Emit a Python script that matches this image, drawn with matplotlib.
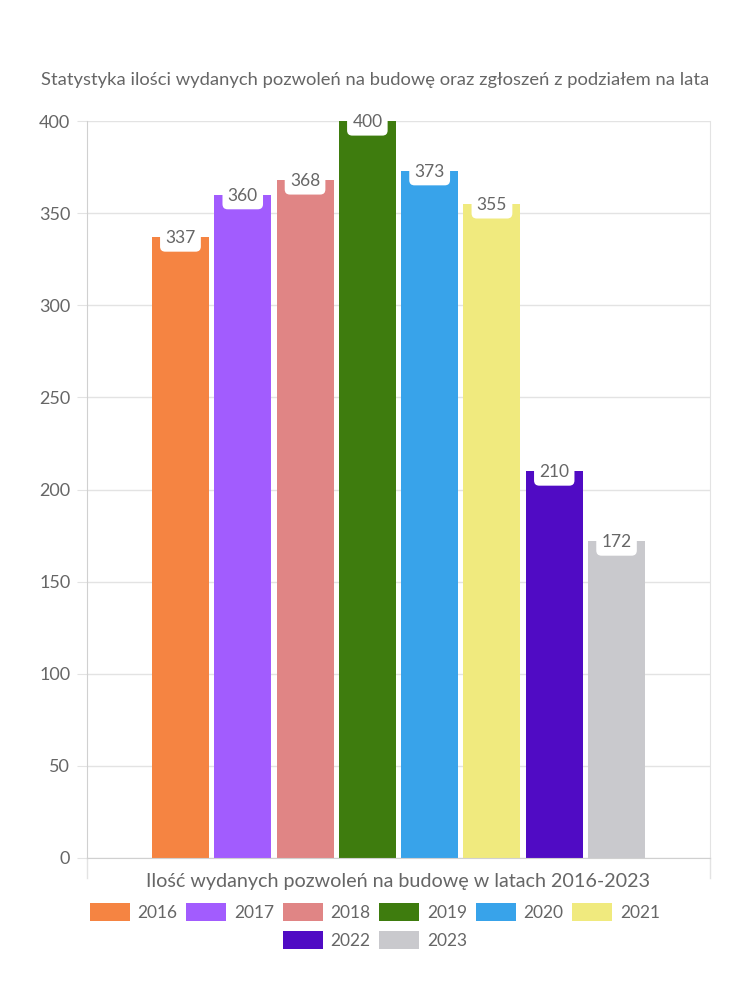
import matplotlib.pyplot as plt
from matplotlib.patches import Patch

years = ['2016', '2017', '2018', '2019', '2020', '2021', '2022', '2023']
permits = [337, 360, 368, 400, 373, 355, 210, 172]
colors = ['#F58442', '#A25CFE', '#E08585', '#3E7C0E', '#38A3EA', '#F0EA7E', '#500BC4', '#C9C9CD']
yticks = [0, 50, 100, 150, 200, 250, 300, 350, 400]

title = 'Statystyka ilości wydanych pozwoleń na budowę oraz zgłoszeń z podziałem na lata'
xlabel = 'Ilość wydanych pozwoleń na budowę w latach 2016-2023'

txt = '#666666'
grid = '#E3E3E3'
plt.rcParams['font.family'] = ['Lato', 'DejaVu Sans']

fig = plt.figure(figsize=(7.5, 10), dpi=100)
ax = fig.add_axes([87 / 750, 1 - 858 / 1000, 623 / 750, 737 / 1000])

step = 0.1
width = 0.0915
for i, (yr, v, c) in enumerate(zip(years, permits, colors)):
    x = 0.5 + (i - 3.5) * step
    ax.bar(x, v, width=width, color=c, zorder=2)
    ax.annotate(str(v), xy=(x, v), xytext=(0, -1), textcoords='offset points',
                ha='center', va='center', fontsize=12.5, color=txt, zorder=4,
                bbox=dict(boxstyle='round,pad=0.3,rounding_size=0.3', fc='white', ec='none'))

ax.set_xlim(0, 1)
ax.set_ylim(0, 400)
ax.set_yticks(yticks)
ax.set_xticks([])
ax.yaxis.grid(True, color=grid, linewidth=1, zorder=0)
ax.spines['top'].set_visible(False)
ax.spines['right'].set_color(grid)
ax.spines['bottom'].set_color('#D0D0D0')
ax.spines['left'].set_color('#D0D0D0')
ax.tick_params(axis='y', colors=grid, length=7, labelcolor=txt, labelsize=13, pad=5)

# category edge ticks below the axis
for xe in [0, 1]:
    ax.plot([xe, xe], [0, -0.027], transform=ax.get_xaxis_transform(), color=grid,
            clip_on=False, linewidth=1)

ax.set_xlabel(xlabel, fontsize=14.2, color=txt, labelpad=11)
fig.text(375 / 750, 1 - 80 / 1000, title, ha='center', va='center', fontsize=13.2, color=txt)

handles = [Patch(facecolor=c, label=y) for y, c in zip(years, colors)]
leg_kw = dict(frameon=False, fontsize=12.5, labelcolor=txt, handlelength=2.3,
              handleheight=1.25, handletextpad=0.45, columnspacing=0.5, borderpad=0)
fig.legend(handles=handles[:6], loc='center', bbox_to_anchor=(375 / 750, 1 - 912 / 1000),
           ncol=6, **leg_kw)
fig.legend(handles=handles[6:], loc='center', bbox_to_anchor=(375 / 750, 1 - 940 / 1000),
           ncol=2, **leg_kw)

fig.savefig('out.png', dpi=100, facecolor='white')
